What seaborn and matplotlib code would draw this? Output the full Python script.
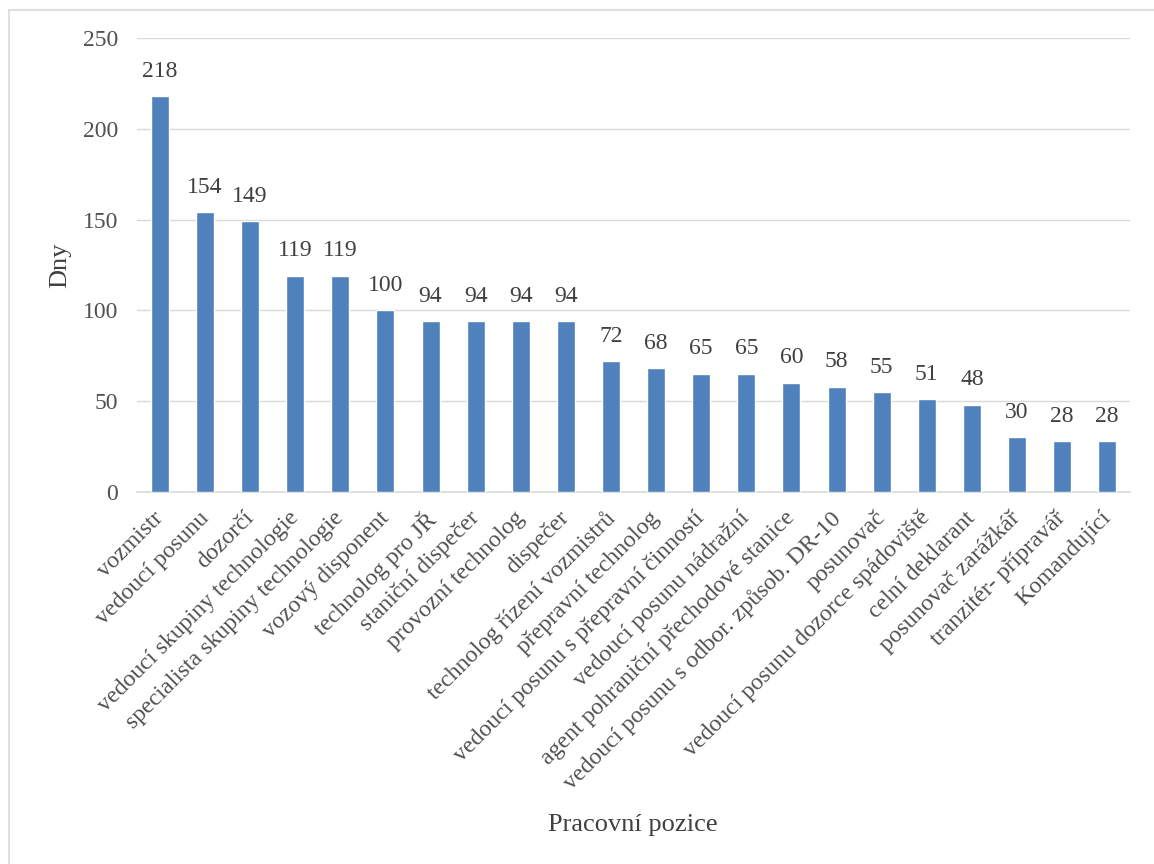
import matplotlib
matplotlib.use("Agg")
import matplotlib.pyplot as plt
import matplotlib.transforms as mtransforms
from matplotlib.lines import Line2D
import seaborn as sns
import pandas as pd

# Data
pozice = [
    "vozmistr", "vedoucí posunu", "dozorčí", "vedoucí skupiny technologie",
    "specialista skupiny technologie", "vozový disponent", "technolog pro JŘ",
    "staniční dispečer", "provozní technolog", "dispečer",
    "technolog řízení vozmistrů", "přepravní technolog",
    "vedoucí posunu s přepravní činností", "vedoucí posunu nádražní",
    "agent pohraniční přechodové stanice", "vedoucí posunu s odbor. způsob. DR-10",
    "posunovač", "vedoucí posunu dozorce spádoviště", "celní deklarant",
    "posunovač zarážkář", "tranzitér- přípravář", "Komandující",
]
dny = [218, 154, 149, 119, 119, 100, 94, 94, 94, 94, 72, 68, 65, 65, 60, 58,
       55, 51, 48, 30, 28, 28]

df = pd.DataFrame({"Pozice": pozice, "Dny": dny})

sns.set_style("white")
plt.rcParams["font.family"] = ["Liberation Serif", "DejaVu Serif"]
text_col = "#505050"

fig = plt.figure(figsize=(11.54, 8.64), dpi=100)
ax = fig.add_axes([0.119, 0.4306, 0.860, 0.5254])

sns.barplot(data=df, x="Pozice", y="Dny", color="#4f81bd", width=0.4,
            saturation=1, ax=ax, zorder=3)

# value labels
for i, v in enumerate(dny):
    ax.text(i, v + 8, str(v), ha="center", va="bottom", fontsize=17,
            color="#404040")

ax.set_ylim(0, 250)
ax.set_yticks([0, 50, 100, 150, 200, 250])
ax.set_xlim(-0.5, len(pozice) - 0.5)
ax.yaxis.grid(True, color="#d9d9d9", linewidth=1, zorder=0)
ax.xaxis.grid(False)

for s in ["top", "right", "left"]:
    ax.spines[s].set_visible(False)
ax.spines["bottom"].set_color("#d9d9d9")
ax.spines["bottom"].set_linewidth(1.2)

ax.tick_params(axis="y", length=0, labelsize=17, labelcolor=text_col, pad=14)
ax.tick_params(axis="x", length=0, labelsize=17.2, labelcolor=text_col, pad=9)
shift = mtransforms.ScaledTranslation(-7 / 100, -3 / 100, fig.dpi_scale_trans)
for lbl in ax.get_xticklabels():
    lbl.set_rotation(45)
    lbl.set_ha("right")
    lbl.set_rotation_mode("anchor")
    lbl.set_transform(lbl.get_transform() + shift)

ax.set_xlabel("")
ax.set_ylabel("Dny", fontsize=19, color="#404040", labelpad=8)
fig.text(0.548, 0.045, "Pracovní pozice", ha="center", va="center",
         fontsize=19, color="#404040")

# chart frame (top and left edges visible)
fig.add_artist(Line2D([0.0075, 1.0], [0.989, 0.989], transform=fig.transFigure,
                      color="#d9d9d9", linewidth=1.2))
fig.add_artist(Line2D([0.0075, 0.0075], [0.0, 0.989], transform=fig.transFigure,
                      color="#d9d9d9", linewidth=1.2))

fig.savefig("out.png", dpi=100)
